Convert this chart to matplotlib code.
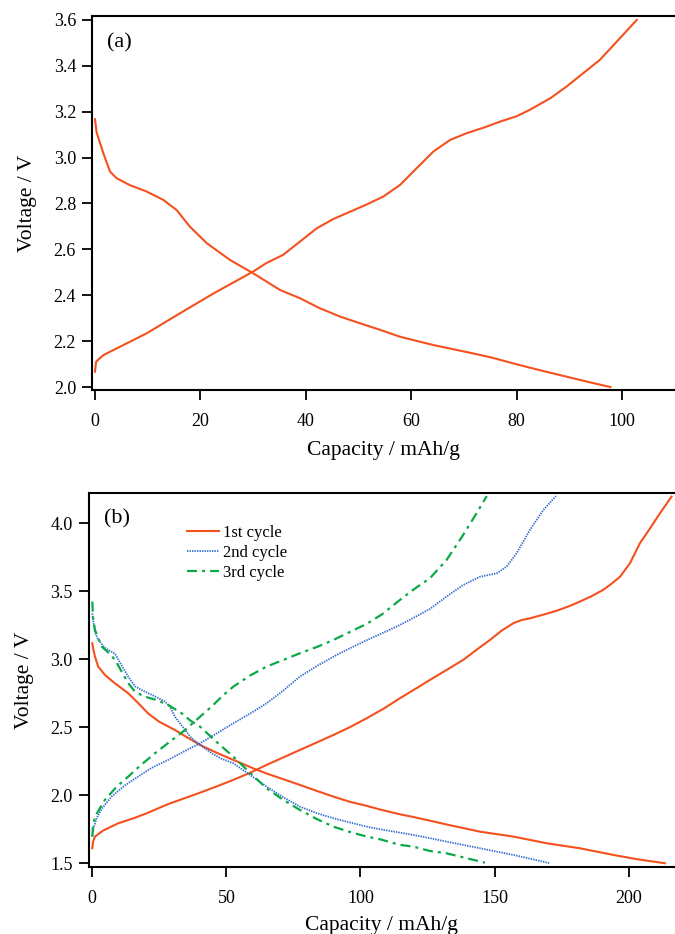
import matplotlib
matplotlib.use("Agg")
import matplotlib.pyplot as plt

plt.rcParams["font.family"] = ["Liberation Serif", "DejaVu Serif"]
plt.rcParams["lines.scale_dashes"] = False

RED = "#f4511e"
BLUE = "#2f6bd0"
GREEN = "#0aaa46"

# ---- panel (a): first charge / discharge ----
a_charge_cap = [0, 0.2, 1.58, 4.7, 9.8, 16.1, 22.5, 30, 32.5, 35.7, 38.9, 42.1, 45.2, 48.4,
                51.5, 54.7, 57.9, 61, 64.2, 67.4, 70.5, 73.7, 76.9, 80, 82.5, 86.5, 89.5,
                92.5, 95.8, 99, 101, 102.8]
a_charge_v = [2.067, 2.11, 2.139, 2.175, 2.234, 2.321, 2.408, 2.503, 2.54, 2.576, 2.634,
              2.692, 2.732, 2.764, 2.795, 2.83, 2.881, 2.953, 3.026, 3.077, 3.106, 3.13,
              3.157, 3.18, 3.208, 3.26, 3.31, 3.365, 3.426, 3.505, 3.555, 3.60]
a_dis_cap = [0, 0.3, 1.58, 2.85, 4.1, 6.6, 9.8, 13, 15.5, 18, 21.2, 25.6, 30, 35.1, 38.9,
             42.5, 46.5, 50, 54, 57.9, 64.2, 70, 75, 80, 85, 89.5, 94, 97.8]
a_dis_v = [3.167, 3.11, 3.019, 2.939, 2.91, 2.88, 2.852, 2.815, 2.771, 2.699, 2.627, 2.554,
           2.496, 2.423, 2.387, 2.345, 2.307, 2.28, 2.25, 2.219, 2.183, 2.155, 2.13, 2.099,
           2.07, 2.045, 2.02, 2.0]

# ---- panel (b): three cycles ----
c1_charge_cap = [0, 0.3, 1, 4, 9.7, 15.3, 20, 28.3, 34, 40.2, 46.4, 52.6, 58.8, 65, 71.2,
                 77.4, 83.7, 89.9, 96, 102.3, 108.5, 114.7, 120.3, 125.9, 132, 138.3, 143.3,
                 148.3, 152.6, 157, 160, 163.2, 168, 173.2, 177.5, 181.8, 186, 190.5, 193.6,
                 196.8, 200.5, 204.2, 208, 211.7, 216]
c1_charge_v = [1.61, 1.66, 1.696, 1.74, 1.794, 1.83, 1.865, 1.935, 1.975, 2.019, 2.065,
               2.113, 2.165, 2.223, 2.278, 2.333, 2.388, 2.443, 2.5, 2.566, 2.635, 2.713,
               2.78, 2.848, 2.92, 2.995, 3.07, 3.142, 3.21, 3.265, 3.288, 3.301, 3.327,
               3.357, 3.388, 3.424, 3.462, 3.51, 3.555, 3.607, 3.706, 3.853, 3.963, 4.074,
               4.196]
c1_dis_cap = [0, 0.4, 1.0, 2.2, 4.7, 8, 13.4, 17, 20.9, 25, 30.8, 35, 40.2, 46.4, 52.6, 60,
              65, 71.2, 77.4, 83.7, 89.9, 96, 102.3, 107.3, 114.7, 119.7, 125.9, 132.1,
              144.6, 157, 169.4, 181.8, 194.3, 203, 213.5]
c1_dis_v = [3.118, 3.07, 3.02, 2.946, 2.885, 2.83, 2.75, 2.68, 2.6, 2.54, 2.48, 2.43, 2.37,
            2.312, 2.26, 2.198, 2.16, 2.118, 2.076, 2.032, 1.99, 1.952, 1.922, 1.895, 1.86,
            1.84, 1.813, 1.785, 1.732, 1.696, 1.647, 1.61, 1.561, 1.53, 1.5]

c2_charge_cap = [0, 0.5, 1.6, 3.5, 7.2, 12, 17.1, 22, 28.3, 34, 40.2, 46.4, 52.6, 58.8, 65,
                 71.2, 77.4, 83.7, 89.9, 96, 102.3, 108.5, 114.7, 120.3, 125.9, 132, 138.3,
                 144.6, 150.8, 154.5, 158.2, 163.2, 168.2, 172.9]
c2_charge_v = [1.696, 1.76, 1.83, 1.9, 1.99, 2.07, 2.137, 2.2, 2.26, 2.32, 2.382, 2.455,
               2.529, 2.6, 2.676, 2.77, 2.872, 2.95, 3.019, 3.08, 3.14, 3.195, 3.252, 3.31,
               3.37, 3.46, 3.546, 3.607, 3.632, 3.681, 3.779, 3.951, 4.098, 4.2]
c2_dis_cap = [0, 0.3, 1, 2.2, 5, 8.5, 10.5, 13.4, 16, 18.4, 22, 27.1, 29, 30.8, 34.6, 37,
              40.2, 44.5, 48, 52.6, 58.8, 65, 71.2, 77.4, 83.7, 89.9, 96, 102.3, 107.3,
              114.7, 119.7, 125.9, 132.1, 144.6, 157, 164, 170.7]
c2_dis_v = [3.338, 3.29, 3.2, 3.142, 3.08, 3.04, 2.97, 2.872, 2.8, 2.774, 2.74, 2.69, 2.65,
            2.578, 2.48, 2.42, 2.37, 2.309, 2.27, 2.235, 2.15, 2.063, 1.985, 1.916, 1.868,
            1.831, 1.8, 1.769, 1.75, 1.725, 1.708, 1.684, 1.659, 1.61, 1.561, 1.53, 1.5]

c3_charge_cap = [0, 0.3, 1, 4.7, 9.1, 13.4, 18, 23.4, 29, 34.6, 40.2, 44.5, 48.5, 52.6,
                 58.8, 65, 71.2, 77.4, 83.7, 89.9, 96, 102.3, 108, 114.7, 120.3, 125.9,
                 132.1, 138.3, 143.3, 147.1]
c3_charge_v = [1.696, 1.78, 1.843, 1.966, 2.063, 2.137, 2.22, 2.309, 2.395, 2.48, 2.578,
               2.652, 2.73, 2.799, 2.88, 2.946, 2.995, 3.044, 3.09, 3.142, 3.2, 3.26, 3.33,
               3.436, 3.52, 3.596, 3.73, 3.914, 4.074, 4.2]
c3_dis_cap = [0, 0.3, 1, 3.5, 6, 8.5, 13.4, 16, 19.6, 24, 28.3, 33.3, 36.5, 40.2, 47, 52.6,
              58.8, 65, 71.2, 77.4, 83.7, 89.9, 96, 102.3, 107.3, 114.7, 119.7, 125.9,
              132.1, 140, 146.4]
c3_dis_v = [3.424, 3.3, 3.215, 3.093, 3.05, 2.995, 2.824, 2.76, 2.725, 2.7, 2.664, 2.603,
            2.55, 2.504, 2.38, 2.284, 2.165, 2.051, 1.966, 1.892, 1.825, 1.769, 1.73, 1.696,
            1.676, 1.635, 1.622, 1.59, 1.573, 1.535, 1.504]

a_xticks = [0, 20, 40, 60, 80, 100]
a_yticks = [2.0, 2.2, 2.4, 2.6, 2.8, 3.0, 3.2, 3.4, 3.6]
b_xticks = [0, 50, 100, 150, 200]
b_yticks = [1.5, 2.0, 2.5, 3.0, 3.5, 4.0]

fig = plt.figure(figsize=(6.75, 9.34), dpi=100)
ax_a = fig.add_axes([92 / 675, 1 - 390 / 934, (675 - 92) / 675, 374 / 934])
ax_b = fig.add_axes([88.7 / 675, 1 - 867.3 / 934, (675 - 88.7) / 675, 374.6 / 934])


def style(ax):
    ax.spines["right"].set_visible(False)
    for s in ("left", "top", "bottom"):
        ax.spines[s].set_linewidth(1.5)
    ax.tick_params(direction="out", length=7.5, width=1.3, labelsize=13, pad=4)
    ax.tick_params(axis="x", pad=9)


ax_a.plot(a_charge_cap, a_charge_v, color=RED, lw=1.5)
ax_a.plot(a_dis_cap, a_dis_v, color=RED, lw=1.5)
ax_a.set_xlim(-0.57, 110.06)
ax_a.set_ylim(1.987, 3.617)
ax_a.set_xticks(a_xticks)
ax_a.set_yticks(a_yticks)
ax_a.set_yticklabels([f"{v:.1f}" for v in a_yticks])
style(ax_a)
ax_a.set_xlabel("Capacity / mAh/g", fontsize=15.5, labelpad=8)
ax_a.set_ylabel("Voltage / V", fontsize=15.5, labelpad=12)
ax_a.text(0.026, 0.927, "(a)", transform=ax_a.transAxes, fontsize=16, va="center")

dash_dot = (0, (7.2, 3.6, 2.2, 3.6))
dots = (0, (1.0, 0.8))
ax_b.plot(c1_charge_cap, c1_charge_v, color=RED, lw=1.5, label="1st cycle")
ax_b.plot(c1_dis_cap, c1_dis_v, color=RED, lw=1.5)
ax_b.plot(c2_charge_cap, c2_charge_v, color=BLUE, lw=1.3, ls=dots, label="2nd cycle")
ax_b.plot(c2_dis_cap, c2_dis_v, color=BLUE, lw=1.3, ls=dots)
ax_b.plot(c3_charge_cap, c3_charge_v, color=GREEN, lw=1.6, ls=dash_dot, label="3rd cycle")
ax_b.plot(c3_dis_cap, c3_dis_v, color=GREEN, lw=1.6, ls=dash_dot)
ax_b.set_xlim(-1.34, 217.3)
ax_b.set_ylim(1.47, 4.225)
ax_b.set_xticks(b_xticks)
ax_b.set_yticks(b_yticks)
ax_b.set_yticklabels([f"{v:.1f}" for v in b_yticks])
style(ax_b)
ax_b.set_xlabel("Capacity / mAh/g", fontsize=15.5, labelpad=6)
ax_b.set_ylabel("Voltage / V", fontsize=15.5, labelpad=12)
ax_b.text(0.026, 0.929, "(b)", transform=ax_b.transAxes, fontsize=16, va="center")
ax_b.legend(loc="upper left", bbox_to_anchor=(0.167, 0.914), frameon=False, fontsize=12,
            handlelength=1.95, handletextpad=0.25, labelspacing=0.25, borderpad=0,
            borderaxespad=0)

fig.savefig("out.png", dpi=100)
